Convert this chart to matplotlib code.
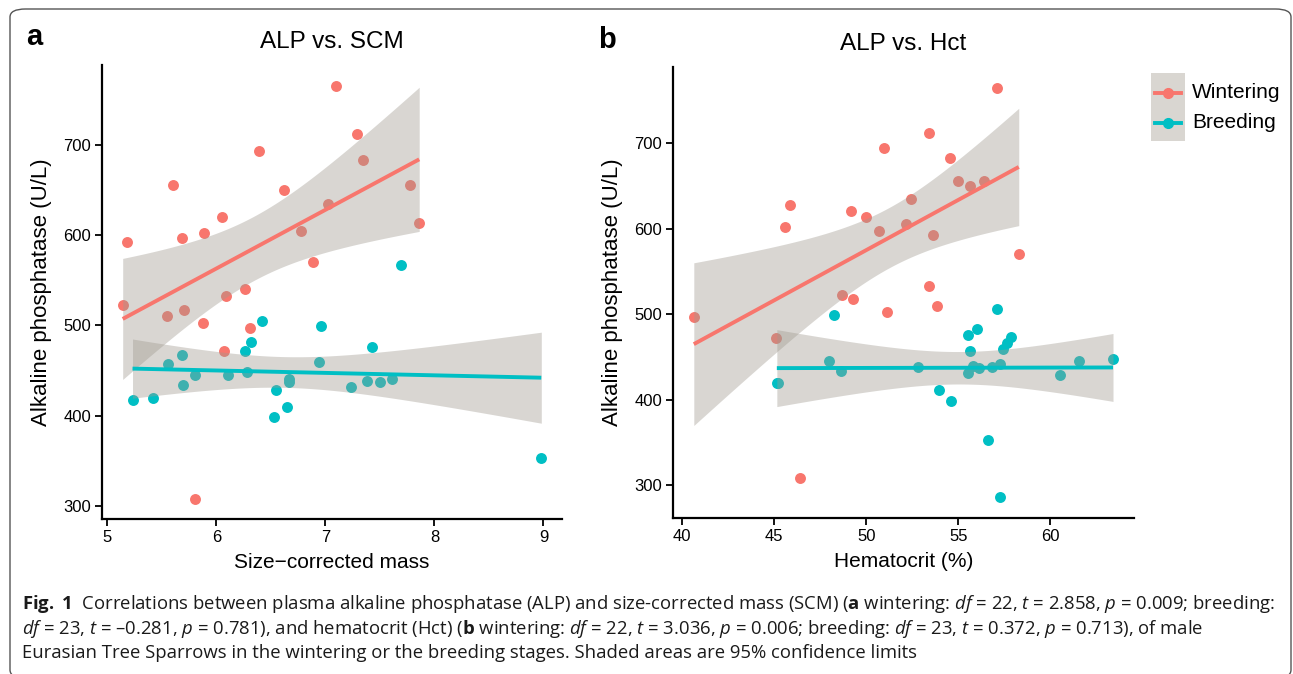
import numpy as np
import matplotlib
matplotlib.use("Agg")
import matplotlib.pyplot as plt
from matplotlib.patches import FancyBboxPatch, Rectangle
from matplotlib.lines import Line2D

# ---------------- data ----------------
# Panel a: ALP vs size-corrected mass
scm_wint = [7.10, 7.29, 6.39, 7.34, 5.60, 7.78, 6.62, 7.02, 6.05, 7.86, 6.78, 5.68,
            5.89, 5.18, 6.89, 6.26, 5.14, 6.09, 5.55, 5.70, 5.88, 6.31, 6.07, 5.80]
alp_a_wint = [765, 712, 693, 683, 655, 655, 650, 634, 620, 613, 605, 597,
              602, 592, 570, 540, 523, 533, 510, 517, 503, 497, 472, 308]
scm_breed = [7.69, 6.42, 6.96, 6.32, 6.26, 7.43, 5.68, 5.56, 6.94, 5.80, 6.11, 6.28,
             6.67, 6.67, 7.38, 7.50, 7.61, 7.23, 5.69, 6.55, 5.23, 5.42, 6.65, 6.53, 8.98]
alp_a_breed = [567, 505, 499, 482, 472, 476, 467, 457, 460, 445, 445, 448,
               441, 438, 439, 437, 441, 432, 434, 429, 418, 420, 410, 399, 353]

# Panel b: ALP vs hematocrit
hct_wint = [57.09, 53.40, 50.96, 54.56, 55.00, 55.63, 56.40, 45.88, 52.41, 49.19, 49.98, 45.59,
            50.71, 52.16, 53.60, 58.28, 53.40, 48.68, 49.28, 51.14, 53.85, 40.63, 45.12, 46.42]
alp_b_wint = [765, 712, 694, 683, 656, 650, 656, 628, 635, 621, 614, 602,
              597, 605, 593, 570, 533, 523, 518, 503, 510, 497, 472, 309]
hct_breed = [57.09, 48.25, 56.00, 55.55, 57.85, 57.63, 57.40, 55.62, 47.99, 61.57, 63.40, 52.82,
             55.82, 56.84, 57.27, 48.61, 55.52, 60.51, 45.14, 45.21, 53.96, 54.58, 56.60, 57.25, 56.10]
alp_b_breed = [506, 499, 483, 476, 473, 467, 460, 457, 445, 445, 448, 438,
               440, 439, 442, 434, 432, 429, 420, 420, 411, 399, 353, 286, 437]

groups = ["Wintering", "Breeding"]
colors = ["#F8766D", "#00BFC4"]
T95 = {22: 2.0739, 23: 2.0687}  # t critical values (95%)

plt.rcParams["font.family"] = ["Liberation Sans", "DejaVu Sans"]
plt.rcParams["mathtext.fontset"] = "custom"
plt.rcParams["mathtext.rm"] = "Open Sans"
plt.rcParams["mathtext.it"] = "Open Sans:italic"
plt.rcParams["mathtext.bf"] = "Open Sans:bold"

W, H = 1293, 674
fig = plt.figure(figsize=(W / 100, H / 100), dpi=100)


def px_axes(l, t, r, b):
    return fig.add_axes([l / W, 1 - b / H, (r - l) / W, (b - t) / H])


def smooth(ax, x, y, color):
    x = np.asarray(x, float)
    y = np.asarray(y, float)
    n = len(x)
    b, a = np.polyfit(x, y, 1)
    xs = np.linspace(x.min(), x.max(), 100)
    yhat = a + b * xs
    resid = y - (a + b * x)
    s = np.sqrt(np.sum(resid ** 2) / (n - 2))
    se = s * np.sqrt(1 / n + (xs - x.mean()) ** 2 / np.sum((x - x.mean()) ** 2))
    t = T95[n - 2]
    ax.fill_between(xs, yhat - t * se, yhat + t * se, color="#A09A90", alpha=0.4,
                    linewidth=0, zorder=3)
    ax.plot(xs, yhat, color=color, lw=2.8, zorder=4, solid_capstyle="butt")


def panel(ax, xw, yw, xb, yb, xlim, ylim, xticks, title, xlabel):
    for x, y, c in [(xw, yw, colors[0]), (xb, yb, colors[1])]:
        ax.scatter(x, y, s=62, color=c, linewidths=0, zorder=2)
    smooth(ax, xw, yw, colors[0])
    smooth(ax, xb, yb, colors[1])
    ax.set_xlim(*xlim)
    ax.set_ylim(*ylim)
    ax.set_xticks(xticks)
    ax.set_yticks([300, 400, 500, 600, 700])
    for sp in ["top", "right"]:
        ax.spines[sp].set_visible(False)
    for sp in ["left", "bottom"]:
        ax.spines[sp].set_linewidth(1.6)
    ax.tick_params(direction="out", length=5, width=1.3, labelsize=12, colors="black",
                   pad=3)
    ax.set_title(title, fontsize=17.5, pad=12)
    ax.set_xlabel(xlabel, fontsize=15, labelpad=6)
    ax.set_ylabel("Alkaline phosphatase (U/L)", fontsize=16, labelpad=8)


ax1 = px_axes(102, 65, 562, 519)
panel(ax1, scm_wint, alp_a_wint, scm_breed, alp_a_breed, (4.95, 9.17), (286, 788),
      [5, 6, 7, 8, 9], "ALP vs. SCM", "Size\u2212corrected mass")

ax2 = px_axes(673, 67, 1134, 518)
panel(ax2, hct_wint, alp_b_wint, hct_breed, alp_b_breed, (39.5, 64.54), (262, 789),
      [40, 45, 50, 55, 60], "ALP vs. Hct", "Hematocrit (%)")

# panel letters
fig.text(26 / W, 1 - 37 / H, "a", fontsize=21, fontweight="bold", va="center", ha="left")
fig.text(598 / W, 1 - 40 / H, "b", fontsize=21, fontweight="bold", va="center", ha="left")

# legend
fig.patches.append(Rectangle((1151 / W, 1 - 141 / H), 34 / W, 68 / H,
                             transform=fig.transFigure, facecolor="#D9D6D1",
                             edgecolor="none"))
for label, c, ypx in [(groups[0], colors[0], 93), (groups[1], colors[1], 123)]:
    fig.lines.append(Line2D([1155 / W, 1181 / W], [1 - ypx / H, 1 - ypx / H],
                            transform=fig.transFigure, color=c, lw=2.8))
    fig.lines.append(Line2D([1168 / W], [1 - ypx / H], transform=fig.transFigure,
                            color=c, marker="o", ms=7, lw=0))
    fig.text(1192 / W, 1 - ypx / H, label, fontsize=15, va="center", ha="left")

# border
fig.patches.append(FancyBboxPatch((10 / W, 1 - 678 / H), 1281 / W, 669 / H,
                                  boxstyle="round,pad=0,rounding_size=0.012",
                                  transform=fig.transFigure, facecolor="none",
                                  edgecolor="#555555", lw=1.0))

# caption
cap_kw = dict(fontsize=13.3, family="Open Sans", va="center", ha="left",
              color="#1a1a1a")
line1 = (r"$\mathbf{Fig.}$ $\mathbf{1}$  Correlations between plasma alkaline phosphatase (ALP) "
         r"and size-corrected mass (SCM) ($\mathbf{a}$ wintering: $\mathit{df}$ = 22, "
         r"$\mathit{t}$ = 2.858, $\mathit{p}$ = 0.009; breeding:")
line2 = (r"$\mathit{df}$ = 23, $\mathit{t}$ = " + "\u2013" + r"0.281, $\mathit{p}$ = 0.781), and hematocrit (Hct) "
         r"($\mathbf{b}$ wintering: $\mathit{df}$ = 22, $\mathit{t}$ = 3.036, $\mathit{p}$ = 0.006; "
         r"breeding: $\mathit{df}$ = 23, $\mathit{t}$ = 0.372, $\mathit{p}$ = 0.713), of male")
line3 = ("Eurasian Tree Sparrows in the wintering or the breeding stages. "
         "Shaded areas are 95% confidence limits")
for txt, ypx in [(line1, 604), (line2, 629), (line3, 653)]:
    fig.text(22 / W, 1 - ypx / H, txt, **cap_kw)

fig.savefig("out.png", dpi=100)
